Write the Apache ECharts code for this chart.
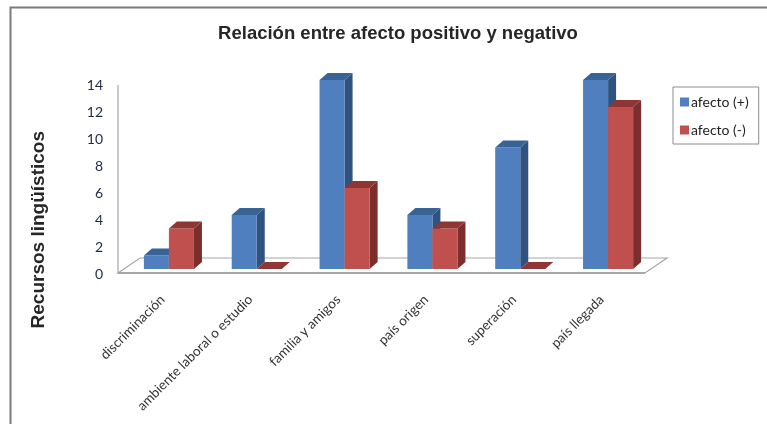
<!DOCTYPE html>
<html>
<head>
<meta charset="utf-8">
<script src="https://cdn.jsdelivr.net/npm/echarts@6/dist/echarts.min.js"></script>
<style>
html,body{margin:0;padding:0;background:#fff;}
#c{width:767px;height:424px;}
</style>
</head>
<body>
<div id="c"></div>
<script>
var categories = ['discriminación', 'ambiente laboral o estudio', 'familia y amigos', 'país origen', 'superación', 'país llegada'];
var positivo = [1, 4, 14, 4, 9, 14];
var negativo = [3, 0, 6, 3, 0, 12];
var yTicks = [0, 2, 4, 6, 8, 10, 12, 14];
var seriesNames = ['afecto (+)', 'afecto (-)'];

var palette = [
  {front: '#4F7FBE', side: '#30527F', top: '#3A6395'},
  {front: '#C0504D', side: '#7C2E2C', top: '#8E3633'}
];
var DX = 8, DY = -7, BAR_FRAC = 0.285;

function barRenderer(si) {
  return function (params, api) {
    var cat = api.value(0), val = api.value(1);
    var top = api.coord([cat, val]);
    var base = api.coord([cat, 0]);
    var band = api.size([1, 0])[0];
    var w = band * BAR_FRAC;
    var x0 = si === 0 ? top[0] - w : top[0];
    var x1 = x0 + w;
    var yt = top[1], yb = base[1];
    var c = palette[si];
    var children = [];
    if (yb - yt > 0.5) {
      children.push({type: 'polygon', shape: {points: [[x1, yt], [x1 + DX, yt + DY], [x1 + DX, yb + DY], [x1, yb]]}, style: {fill: c.side}});
      children.push({type: 'rect', shape: {x: x0, y: yt, width: w, height: yb - yt}, style: {fill: c.front}});
    }
    children.push({type: 'polygon', shape: {points: [[x0, yt], [x0 + DX, yt + DY], [x1 + DX, yt + DY], [x1, yt]]}, style: {fill: c.top}});
    return {type: 'group', children: children};
  };
}

function floorRenderer(params, api) {
  var cs = params.coordSys;
  var y0 = api.coord([0, 0])[1];
  var yMax = api.coord([0, yTicks[yTicks.length - 1]])[1];
  var L = cs.x - 7, R = cs.x + cs.width - 7;
  var yf = y0 + 4, yk = y0 - 11;
  return {type: 'group', children: [
    {type: 'polygon', shape: {points: [[L, yf], [L + 22, yk], [R + 22, yk], [R, yf]]}, style: {fill: '#fff', stroke: '#A6A6A6', lineWidth: 1.2}},
    {type: 'line', shape: {x1: L, y1: yf, x2: R, y2: yf}, style: {stroke: '#9A9A9A', lineWidth: 1.6}},
    {type: 'line', shape: {x1: L, y1: yMax + 5, x2: L, y2: yf}, style: {stroke: '#A6A6A6', lineWidth: 1.2}}
  ]};
}

var chart = echarts.init(document.getElementById('c'), null, {renderer: 'canvas'});
chart.setOption({
  backgroundColor: '#fff',
  animation: false,
  title: {
    text: 'Relación entre afecto positivo y negativo',
    left: 393, top: 19, textAlign: 'center',
    textStyle: {fontFamily: 'Liberation Sans, Arial, sans-serif', fontSize: 18.5, fontWeight: 'bold', color: '#262626'}
  },
  graphic: [
    {type: 'rect', left: 8, top: 5, shape: {width: 820, height: 480}, style: {fill: 'none', stroke: '#7A7A7A', lineWidth: 2}, silent: true},
    {type: 'text', left: 29, top: 131, rotation: Math.PI / 2, style: {text: 'Recursos lingüísticos', font: 'bold 19px "Liberation Sans", Arial, sans-serif', fill: '#262626'}, silent: true}
  ],
  legend: {
    data: [{name: seriesNames[0], icon: 'rect'}, {name: seriesNames[1], icon: 'rect'}],
    orient: 'vertical', left: 673, top: 87,
    itemWidth: 9, itemHeight: 9, itemGap: 14,
    padding: [8, 10, 7, 7],
    borderColor: '#8C8C8C', borderWidth: 1,
    textStyle: {fontFamily: 'Lato, "Open Sans", sans-serif', fontSize: 14, color: '#222', padding: [0, 0, 0, -3]}
  },
  grid: {left: 125, right: 115, top: 80, bottom: 155, containLabel: false},
  xAxis: {
    type: 'category', data: categories,
    axisLine: {show: false}, axisTick: {show: false},
    axisLabel: {
      rotate: 45, margin: 22, interval: 0,
      formatter: function (v) { return '{t|' + v + '}{p|}'; },
      rich: {
        t: {fontFamily: 'Lato, "Open Sans", sans-serif', fontSize: 13.5, color: '#333'},
        p: {width: 9}
      }
    }
  },
  yAxis: {
    type: 'value', min: yTicks[0], max: yTicks[yTicks.length - 1], interval: 2,
    splitLine: {show: false}, axisLine: {show: false}, axisTick: {show: false},
    axisLabel: {margin: 22, verticalAlign: 'top', lineHeight: 10, fontFamily: 'Lato, "Open Sans", sans-serif', fontSize: 14, color: '#1E2A44'}
  },
  series: [
    {type: 'custom', name: '__floor', data: [[0, 0]], renderItem: floorRenderer, silent: true, z: 1},
    {type: 'custom', name: seriesNames[0], color: palette[0].front, data: positivo.map(function (v, i) { return [i, v]; }), renderItem: barRenderer(0), encode: {x: 0, y: 1}, z: 2},
    {type: 'custom', name: seriesNames[1], color: palette[1].front, data: negativo.map(function (v, i) { return [i, v]; }), renderItem: barRenderer(1), encode: {x: 0, y: 1}, z: 3}
  ]
});
</script>
</body>
</html>
